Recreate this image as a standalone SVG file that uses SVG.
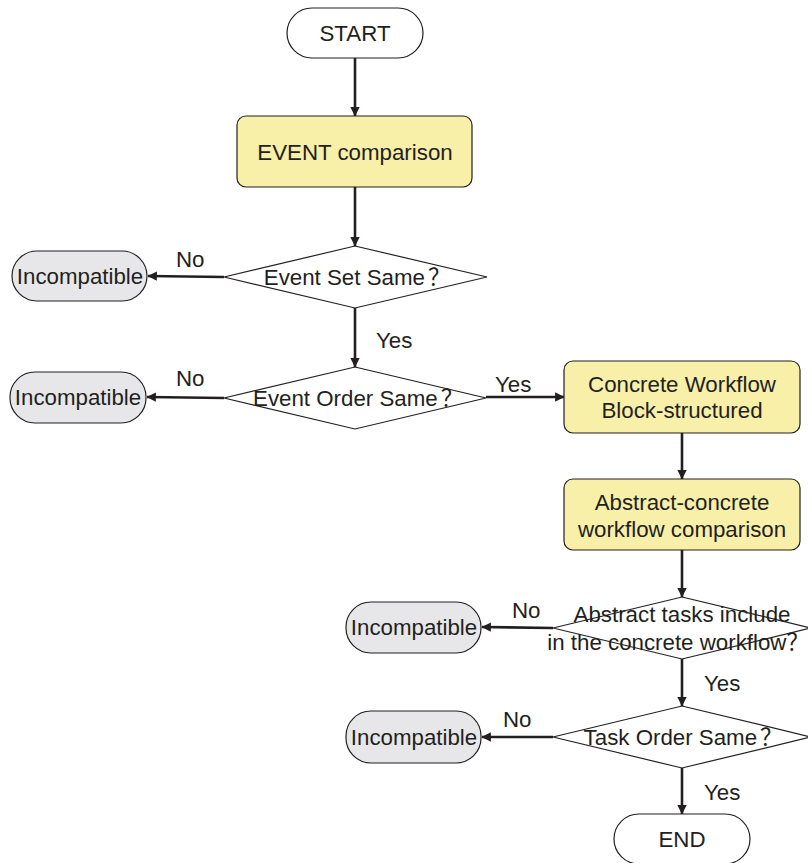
<svg xmlns="http://www.w3.org/2000/svg" width="808" height="863" viewBox="0 0 808 863">
  <style>
    .term { fill: #ffffff; stroke: #231f20; stroke-width: 1.2; }
    .proc { fill: #f8f0a9; stroke: #231f20; stroke-width: 1.2; }
    .dec { fill: #ffffff; stroke: #231f20; stroke-width: 1.2; }
    .fail { fill: #e7e7ea; stroke: #231f20; stroke-width: 1.2; }
    .lbl { font-family: "Liberation Sans", Arial, "Noto Sans CJK SC", sans-serif; font-size: 22.3px; fill: #231f20; text-anchor: middle; }
    .tag { font-family: "Liberation Sans", Arial, sans-serif; font-size: 22.3px; fill: #231f20; }
    .q { font-family: "Noto Sans CJK SC", sans-serif; }
    .edge { stroke: #231f20; stroke-width: 2.6; fill: none; marker-end: url(#arrow); }
  </style>
  <defs>
    <marker id="arrow" viewBox="0 0 10 10" refX="9.5" refY="5" markerWidth="3.6" markerHeight="3.6" orient="auto" markerUnits="strokeWidth">
      <path d="M0,0 L10,5 L0,10 z" fill="#231f20"/>
    </marker>
  </defs>

  <rect width="808" height="863" fill="#ffffff"/>

  <g id="connectors">
    <line class="edge" x1="355" y1="58" x2="355" y2="116"/>
    <line class="edge" x1="355" y1="187" x2="355" y2="246"/>
    <line class="edge" x1="224" y1="277" x2="148" y2="276"/>
    <line class="edge" x1="355" y1="308" x2="355" y2="367"/>
    <line class="edge" x1="224" y1="398" x2="147" y2="397"/>
    <line class="edge" x1="486" y1="397" x2="564" y2="397"/>
    <line class="edge" x1="682" y1="433" x2="682" y2="479"/>
    <line class="edge" x1="682" y1="550" x2="682" y2="597"/>
    <line class="edge" x1="553" y1="628" x2="482" y2="627"/>
    <line class="edge" x1="682" y1="659" x2="682" y2="706"/>
    <line class="edge" x1="553" y1="737" x2="482" y2="737"/>
    <line class="edge" x1="682" y1="768" x2="682" y2="814"/>
    <text class="tag" x="176" y="267">No</text>
    <text class="tag" x="376" y="348">Yes</text>
    <text class="tag" x="176" y="386">No</text>
    <text class="tag" x="495" y="392">Yes</text>
    <text class="tag" x="512" y="618">No</text>
    <text class="tag" x="704" y="691">Yes</text>
    <text class="tag" x="503" y="727">No</text>
    <text class="tag" x="704" y="800">Yes</text>
  </g>

  <g id="start">
    <rect class="term" x="287" y="8" width="136" height="50" rx="25"/>
    <text class="lbl" x="355" y="41">START</text>
  </g>

  <g id="event-comparison">
    <rect class="proc" x="237" y="116" width="235" height="71" rx="9"/>
    <text class="lbl" x="355" y="160">EVENT comparison</text>
  </g>

  <g id="event-set-same">
    <polygon class="dec" points="355,246 487,277 355,308 224,277"/>
    <text class="lbl" x="357" y="285">Event Set Same<tspan class="q" dx="3">？</tspan></text>
  </g>

  <g id="incompatible-1">
    <rect class="fail" x="12" y="251" width="135" height="50" rx="25"/>
    <text class="lbl" x="80" y="284">Incompatible</text>
  </g>

  <g id="event-order-same">
    <polygon class="dec" points="355,367 486,398 355,429 224,398"/>
    <text class="lbl" x="358" y="406">Event Order Same<tspan class="q" dx="3">？</tspan></text>
  </g>

  <g id="incompatible-2">
    <rect class="fail" x="10" y="372" width="136" height="51" rx="25"/>
    <text class="lbl" x="78" y="405">Incompatible</text>
  </g>

  <g id="concrete-workflow">
    <rect class="proc" x="564" y="361" width="236" height="72" rx="9"/>
    <text class="lbl" x="682" y="392">Concrete Workflow</text>
    <text class="lbl" x="682" y="418">Block-structured</text>
  </g>

  <g id="abstract-concrete">
    <rect class="proc" x="564" y="479" width="236" height="71" rx="9"/>
    <text class="lbl" x="682" y="510">Abstract-concrete</text>
    <text class="lbl" x="682" y="537">workflow comparison</text>
  </g>

  <g id="tasks-included">
    <polygon class="dec" points="682,597 811,628 682,659 553,628"/>
    <text class="lbl" x="682" y="622">Abstract tasks include</text>
    <text class="lbl" x="678" y="650">in the concrete workflow<tspan class="q">？</tspan></text>
  </g>

  <g id="incompatible-3">
    <rect class="fail" x="346" y="602" width="135" height="51" rx="25"/>
    <text class="lbl" x="414" y="635">Incompatible</text>
  </g>

  <g id="task-order-same">
    <polygon class="dec" points="682,706 811,737 682,768 553,737"/>
    <text class="lbl" x="683" y="745">Task Order Same<tspan class="q" dx="3">？</tspan></text>
  </g>

  <g id="incompatible-4">
    <rect class="fail" x="346" y="711" width="135" height="52" rx="25"/>
    <text class="lbl" x="414" y="745">Incompatible</text>
  </g>

  <g id="end">
    <rect class="term" x="614" y="814" width="136" height="50" rx="25"/>
    <text class="lbl" x="682" y="847">END</text>
  </g>
</svg>
